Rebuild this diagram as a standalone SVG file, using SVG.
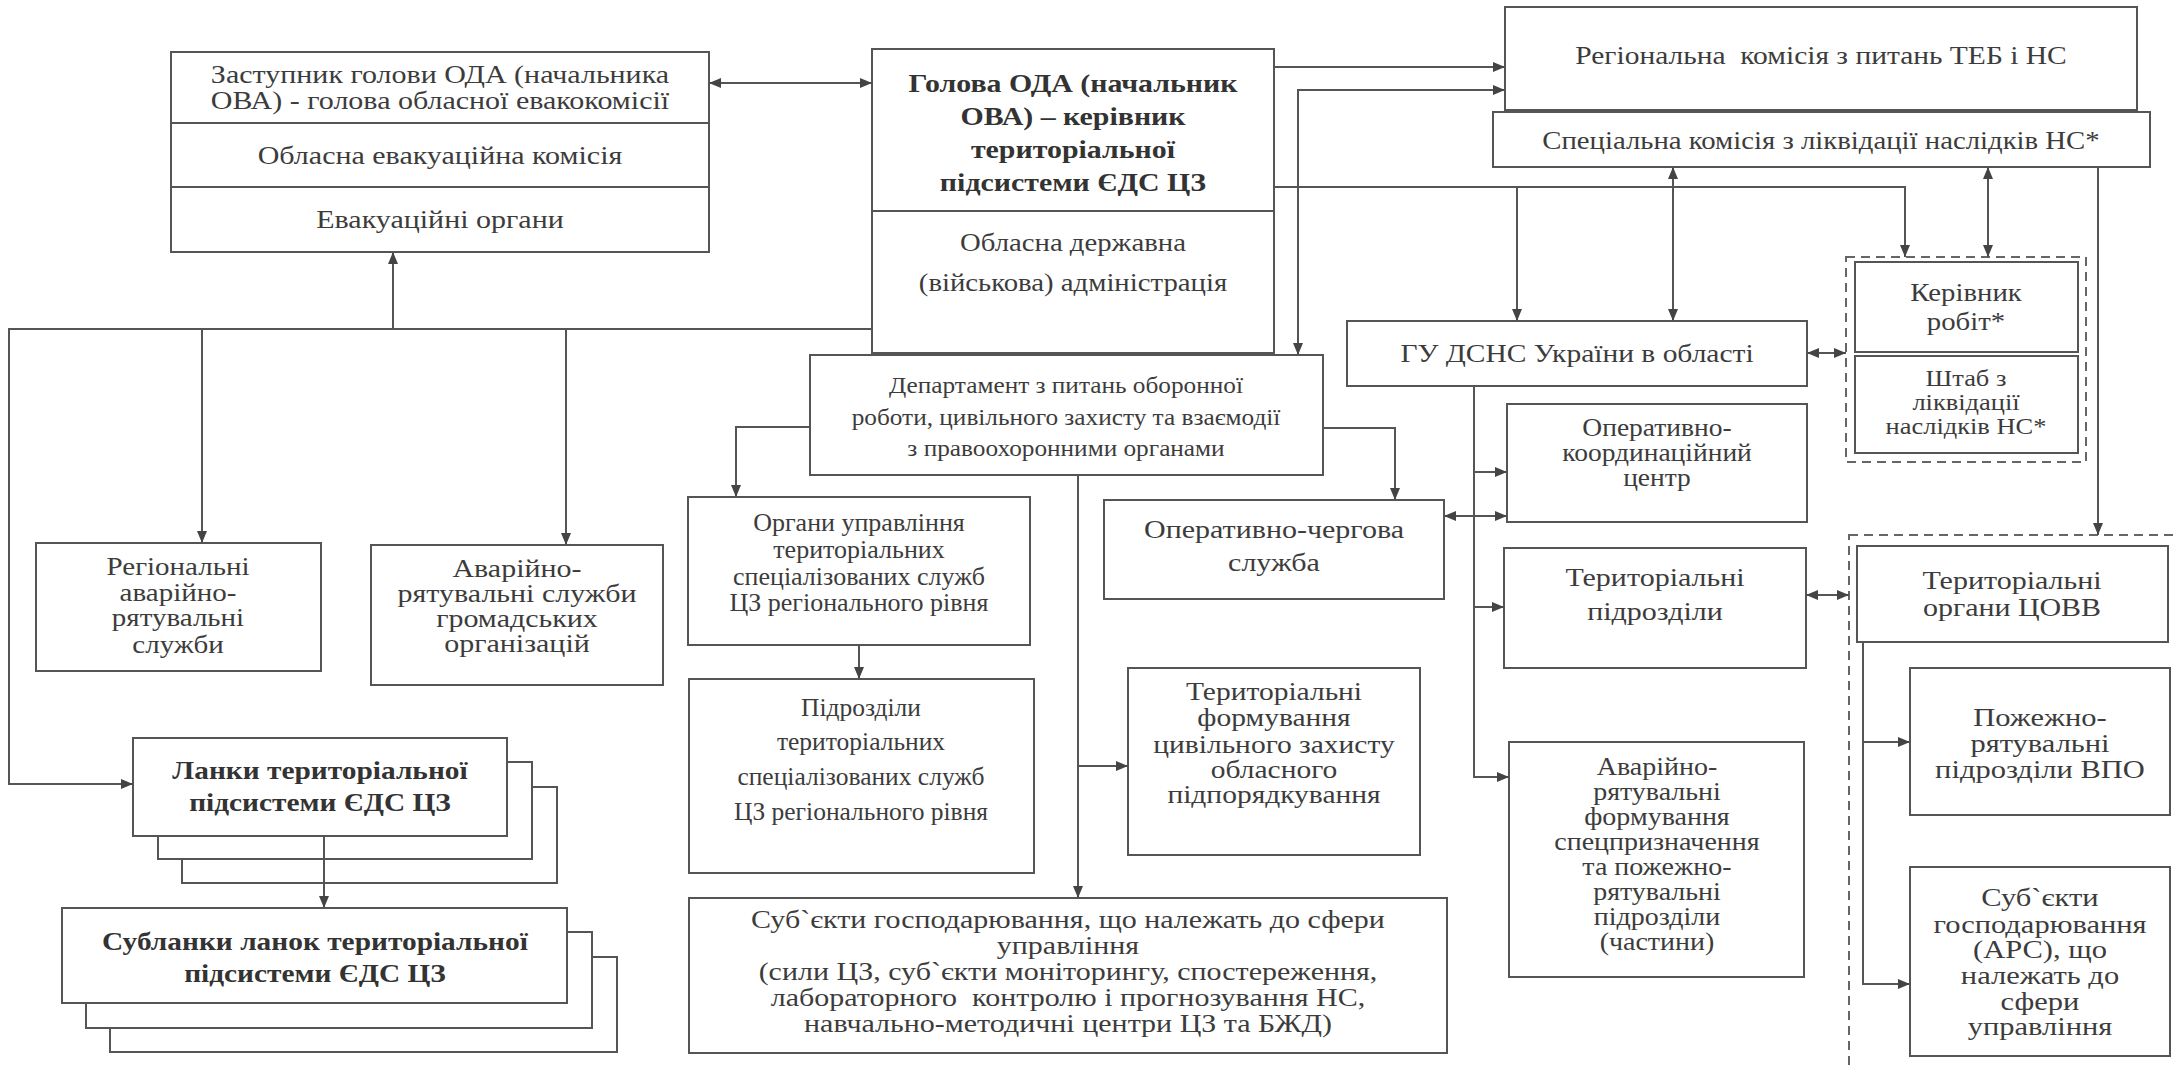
<svg xmlns="http://www.w3.org/2000/svg" width="2174" height="1066" viewBox="0 0 2174 1066">
<defs>
<style>
.box{fill:#fff;stroke:#555;stroke-width:2}
.dash{fill:none;stroke:#666;stroke-width:2;stroke-dasharray:9 6}
.t{font-family:"Liberation Serif","Times New Roman",serif;font-size:25px;fill:#3c3c3c;text-anchor:middle}
.b{font-weight:bold;font-size:26px;fill:#333}
.s{font-size:23px}
.c{fill:none;stroke:#555;stroke-width:2}
.a{marker-end:url(#ar)}
.aa{marker-start:url(#ar);marker-end:url(#ar)}
</style>
<marker id="ar" markerUnits="userSpaceOnUse" markerWidth="12" markerHeight="10" refX="12" refY="5" orient="auto-start-reverse">
<path d="M0,0 L12,5 L0,10 z" fill="#444"/>
</marker>
</defs>
<rect width="2174" height="1066" fill="#fff"/>

<g id="zastupnyk">
<rect class="box" x="171" y="52" width="538" height="200"/>
<line class="c" x1="171" y1="123" x2="709" y2="123"/>
<line class="c" x1="171" y1="187" x2="709" y2="187"/>
<g transform="matrix(1.2,0,0,1,-88,0)">
<text class="t" x="440" y="83">Заступник голови ОДА (начальника</text>
<text class="t" x="440" y="109">ОВА) - голова обласної евакокомісії</text>
<text class="t" x="440" y="164">Обласна евакуаційна комісія</text>
<text class="t" x="440" y="228">Евакуаційні органи</text>
</g>
</g>

<g id="holova">
<rect class="box" x="872" y="49" width="402" height="304"/>
<line class="c" x1="872" y1="211" x2="1274" y2="211"/>
<g transform="matrix(1.15,0,0,1,-160.95,0)">
<text class="t b" x="1073" y="92">Голова ОДА (начальник</text>
<text class="t b" x="1073" y="125">ОВА) – керівник</text>
<text class="t b" x="1073" y="158">територіальної</text>
<text class="t b" x="1073" y="191">підсистеми ЄДС ЦЗ</text>
<text class="t" x="1073" y="251">Обласна державна</text>
<text class="t" x="1073" y="291">(військова) адміністрація</text>
</g>
</g>

<g id="rehionalna-komisiia">
<rect class="box" x="1505" y="7" width="632" height="103"/>
<g transform="matrix(1.18,0,0,1,-327.78,0)">
<text class="t" x="1821" y="64" xml:space="preserve">Регіональна  комісія з питань ТЕБ і НС</text>
</g>
</g>

<g id="spetsialna-komisiia">
<rect class="box" x="1493" y="112" width="657" height="55"/>
<g transform="matrix(1.15,0,0,1,-273.15,0)">
<text class="t" x="1821" y="149">Спеціальна комісія з ліквідації наслідків НС*</text>
</g>
</g>

<g id="hu-dsns">
<rect class="box" x="1347" y="321" width="460" height="65"/>
<g transform="matrix(1.18,0,0,1,-283.86,0)">
<text class="t" x="1577" y="362">ГУ ДСНС України в області</text>
</g>
</g>

<g id="kerivnyk-group">
<rect class="dash" x="1846" y="257" width="240" height="205"/>
</g>

<g id="kerivnyk">
<rect class="box" x="1855" y="262" width="223" height="90"/>
<g transform="matrix(1.15,0,0,1,-294.9,0)">
<text class="t" x="1966" y="301">Керівник</text>
<text class="t" x="1966" y="330">робіт*</text>
</g>
</g>

<g id="shtab">
<rect class="box" x="1855" y="356" width="223" height="97"/>
<g transform="matrix(1.15,0,0,1,-294.9,0)">
<text class="t s" x="1966" y="386">Штаб з</text>
<text class="t s" x="1966" y="410">ліквідації</text>
<text class="t s" x="1966" y="434">наслідків НС*</text>
</g>
</g>

<g id="departament">
<rect class="box" x="810" y="355" width="513" height="120"/>
<g transform="matrix(1.1,0,0,1,-106.6,0)">
<text class="t s" x="1066" y="393">Департамент з питань оборонної</text>
<text class="t s" x="1066" y="425">роботи, цивільного захисту та взаємодії</text>
<text class="t s" x="1066" y="456">з правоохоронними органами</text>
</g>
</g>

<g id="orhany-upravlinnia">
<rect class="box" x="688" y="497" width="342" height="148"/>
<g transform="matrix(1.04,0,0,1,-34.36,0)">
<text class="t" x="859" y="531">Органи управління</text>
<text class="t" x="859" y="558">територіальних</text>
<text class="t" x="859" y="585">спеціалізованих служб</text>
<text class="t" x="859" y="611">ЦЗ регіонального рівня</text>
</g>
</g>

<g id="operatyvno-cherhova">
<rect class="box" x="1104" y="500" width="340" height="99"/>
<g transform="matrix(1.2,0,0,1,-254.8,0)">
<text class="t" x="1274" y="538">Оперативно-чергова</text>
<text class="t" x="1274" y="571">служба</text>
</g>
</g>

<g id="pidrozdily-sluzhb">
<rect class="box" x="689" y="679" width="345" height="194"/>
<g transform="matrix(1.02,0,0,1,-17.22,0)">
<text class="t" x="861" y="716">Підрозділи</text>
<text class="t" x="861" y="750">територіальних</text>
<text class="t" x="861" y="785">спеціалізованих служб</text>
<text class="t" x="861" y="820">ЦЗ регіонального рівня</text>
</g>
</g>

<g id="formuvannia-tsz">
<rect class="box" x="1128" y="668" width="292" height="187"/>
<g transform="matrix(1.18,0,0,1,-229.32,0)">
<text class="t" x="1274" y="700">Територіальні</text>
<text class="t" x="1274" y="726">формування</text>
<text class="t" x="1274" y="753">цивільного захисту</text>
<text class="t" x="1274" y="778">обласного</text>
<text class="t" x="1274" y="803">підпорядкування</text>
</g>
</g>

<g id="subiekty-hospodariuvannia">
<rect class="box" x="689" y="898" width="758" height="155"/>
<g transform="matrix(1.2,0,0,1,-213.6,0)">
<text class="t" x="1068" y="928">Суб`єкти господарювання, що належать до сфери</text>
<text class="t" x="1068" y="954">управління</text>
<text class="t" x="1068" y="980">(сили ЦЗ, суб`єкти моніторингу, спостереження,</text>
<text class="t" x="1068" y="1006" xml:space="preserve">лабораторного  контролю і прогнозування НС,</text>
<text class="t" x="1068" y="1032">навчально-методичні центри ЦЗ та БЖД)</text>
</g>
</g>

<g id="rehionalni-ars">
<rect class="box" x="36" y="543" width="285" height="128"/>
<g transform="matrix(1.16,0,0,1,-28.48,0)">
<text class="t" x="178" y="575">Регіональні</text>
<text class="t" x="178" y="601">аварійно-</text>
<text class="t" x="178" y="626">рятувальні</text>
<text class="t" x="178" y="653">служби</text>
</g>
</g>

<g id="ars-hromadskykh">
<rect class="box" x="371" y="545" width="292" height="140"/>
<g transform="matrix(1.2,0,0,1,-103.4,0)">
<text class="t" x="517" y="577">Аварійно-</text>
<text class="t" x="517" y="602">рятувальні служби</text>
<text class="t" x="517" y="627">громадських</text>
<text class="t" x="517" y="652">організацій</text>
</g>
</g>

<g id="lanky">
<rect class="box" x="182" y="787" width="375" height="96"/>
<rect class="box" x="158" y="762" width="374" height="97"/>
<rect class="box" x="133" y="738" width="374" height="98"/>
<g transform="matrix(1.13,0,0,1,-41.6,0)">
<text class="t b" x="320" y="779">Ланки територіальної</text>
<text class="t b" x="320" y="811">підсистеми ЄДС ЦЗ</text>
</g>
</g>

<g id="sublanky">
<rect class="box" x="110" y="957" width="507" height="95"/>
<rect class="box" x="86" y="932" width="506" height="96"/>
<rect class="box" x="62" y="908" width="505" height="95"/>
<g transform="matrix(1.13,0,0,1,-40.95,0)">
<text class="t b" x="315" y="950">Субланки ланок територіальної</text>
<text class="t b" x="315" y="982">підсистеми ЄДС ЦЗ</text>
</g>
</g>

<g id="okc">
<rect class="box" x="1507" y="404" width="300" height="118"/>
<g transform="matrix(1.1,0,0,1,-165.7,0)">
<text class="t" x="1657" y="436">Оперативно-</text>
<text class="t" x="1657" y="461">координаційний</text>
<text class="t" x="1657" y="486">центр</text>
</g>
</g>

<g id="terytorialni-pidrozdily">
<rect class="box" x="1504" y="548" width="302" height="120"/>
<g transform="matrix(1.2,0,0,1,-331,0)">
<text class="t" x="1655" y="586">Територіальні</text>
<text class="t" x="1655" y="620">підрозділи</text>
</g>
</g>

<g id="ars-spetspryznachennia">
<rect class="box" x="1509" y="742" width="295" height="235"/>
<g transform="matrix(1.12,0,0,1,-198.84,0)">
<text class="t" x="1657" y="775">Аварійно-</text>
<text class="t" x="1657" y="800">рятувальні</text>
<text class="t" x="1657" y="825">формування</text>
<text class="t" x="1657" y="850">спецпризначення</text>
<text class="t" x="1657" y="875">та пожежно-</text>
<text class="t" x="1657" y="900">рятувальні</text>
<text class="t" x="1657" y="925">підрозділи</text>
<text class="t" x="1657" y="950">(частини)</text>
</g>
</g>

<g id="tsovv-group">
<rect class="dash" x="1849" y="535" width="340" height="540"/>
</g>

<g id="tsovv">
<rect class="box" x="1857" y="546" width="311" height="96"/>
<g transform="matrix(1.2,0,0,1,-402.4,0)">
<text class="t" x="2012" y="589">Територіальні</text>
<text class="t" x="2012" y="616">органи ЦОВВ</text>
</g>
</g>

<g id="pozhezhno-vpo">
<rect class="box" x="1910" y="668" width="260" height="147"/>
<g transform="matrix(1.22,0,0,1,-448.8,0)">
<text class="t" x="2040" y="726">Пожежно-</text>
<text class="t" x="2040" y="752">рятувальні</text>
<text class="t" x="2040" y="778">підрозділи ВПО</text>
</g>
</g>

<g id="subiekty-ars">
<rect class="box" x="1910" y="867" width="260" height="189"/>
<g transform="matrix(1.22,0,0,1,-448.8,0)">
<text class="t" x="2040" y="906">Суб`єкти</text>
<text class="t" x="2040" y="933">господарювання</text>
<text class="t" x="2040" y="958">(АРС), що</text>
<text class="t" x="2040" y="984">належать до</text>
<text class="t" x="2040" y="1010">сфери</text>
<text class="t" x="2040" y="1035">управління</text>
</g>
</g>

<g id="connectors">
<path class="c aa" d="M709,83 H872"/>
<path class="c a" d="M1274,67 H1505"/>
<path class="c aa" d="M1298,355 V90 H1505"/>
<path class="c a" d="M1274,187 H1905 V257"/>
<path class="c a" d="M1517,187 V321"/>
<path class="c aa" d="M1673,167 V321"/>
<path class="c aa" d="M1988,167 V257"/>
<path class="c a" d="M2098,167 V535"/>
<path class="c aa" d="M1807,353 H1846"/>
<path class="c a" d="M872,329 H9 V784 H133"/>
<path class="c a" d="M202,329 V543"/>
<path class="c a" d="M566,329 V545"/>
<path class="c a" d="M393,329 V252"/>
<path class="c a" d="M810,427 H736 V497"/>
<path class="c a" d="M1323,428 H1395 V500"/>
<path class="c a" d="M1078,475 V898"/>
<path class="c a" d="M1078,766 H1128"/>
<path class="c a" d="M859,645 V679"/>
<path class="c a" d="M324,836 V908"/>
<path class="c a" d="M1474,386 V777 H1509"/>
<path class="c a" d="M1474,472 H1507"/>
<path class="c a" d="M1474,607 H1504"/>
<path class="c aa" d="M1444,516 H1507"/>
<path class="c aa" d="M1806,595 H1849"/>
<path class="c a" d="M1863,642 V984 H1910"/>
<path class="c a" d="M1863,742 H1910"/>
</g>
</svg>
